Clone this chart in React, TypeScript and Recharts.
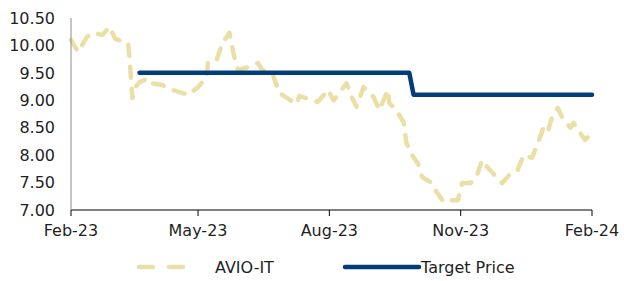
import React from 'react';
import { LineChart, Line, XAxis, YAxis } from 'recharts';

// AVIO-IT closing prices
const avioDates = [
  '2023-02-01', '2023-02-06', '2023-02-12', '2023-02-16', '2023-02-23', '2023-02-28',
  '2023-03-04', '2023-03-13', '2023-03-14', '2023-03-16', '2023-03-18', '2023-03-21',
  '2023-03-27', '2023-03-30', '2023-04-06', '2023-04-13', '2023-04-18', '2023-04-24',
  '2023-05-01', '2023-05-07', '2023-05-08', '2023-05-14', '2023-05-18', '2023-05-23',
  '2023-05-26', '2023-05-29', '2023-06-06', '2023-06-12', '2023-06-15', '2023-06-22',
  '2023-06-27', '2023-07-09', '2023-07-11', '2023-07-24', '2023-07-31', '2023-08-04',
  '2023-08-13', '2023-08-17', '2023-08-20', '2023-08-25', '2023-08-27', '2023-09-01',
  '2023-09-05', '2023-09-11', '2023-09-12', '2023-09-17', '2023-09-22', '2023-09-24',
  '2023-09-28', '2023-10-02', '2023-10-05', '2023-10-12', '2023-10-15', '2023-10-20',
  '2023-10-22', '2023-10-30', '2023-11-02', '2023-11-08', '2023-11-13', '2023-11-16',
  '2023-11-20', '2023-11-30', '2023-12-06', '2023-12-11', '2023-12-15', '2023-12-21',
  '2023-12-24', '2023-12-29', '2024-01-01', '2024-01-04', '2024-01-08', '2024-01-12',
  '2024-01-17', '2024-01-19', '2024-01-27', '2024-02-01',
];
const avioPrices = [
  10.1, 9.88, 10.15, 10.23, 10.19, 10.34,
  10.12, 10.04, 9.77, 9.04, 9.24, 9.33,
  9.4, 9.31, 9.28, 9.19, 9.15, 9.1,
  9.24, 9.42, 9.7, 9.73, 10.04, 10.23,
  9.83, 9.55, 9.61, 9.68, 9.55, 9.5,
  9.13, 8.93, 9.08, 8.97, 9.19, 9.0,
  9.31, 9.04, 8.88, 9.24, 9.19, 9.06,
  8.82, 9.19, 8.95, 8.82, 8.6, 8.22,
  8.0, 7.85, 7.6, 7.49, 7.33, 7.15,
  7.18, 7.18, 7.49, 7.49, 7.67, 7.91,
  7.77, 7.49, 7.67, 7.73, 8.0, 7.95,
  8.15, 8.5, 8.42, 8.7, 8.86, 8.64,
  8.5, 8.59, 8.28, 8.4,
];

// Target price steps
const targetDates = ['2023-03-21', '2023-09-26', '2023-09-29', '2024-02-01'];
const targetPrices = [9.5, 9.5, 9.1, 9.1];

const xTickDates = ['2023-02-01', '2023-05-01', '2023-08-01', '2023-11-01', '2024-02-01'];
const xTickLabels = ['Feb-23', 'May-23', 'Aug-23', 'Nov-23', 'Feb-24'];
const yTicks = [7, 7.5, 8, 8.5, 9, 9.5, 10, 10.5];

const BEIGE = '#EAE0A6';
const NAVY = '#033C7A';
const FONT = '"DejaVu Sans", sans-serif';

const ts = (d: string) => Date.parse(d + 'T00:00:00Z');

const avioData = avioDates.map((d, i) => ({ t: ts(d), value: avioPrices[i] }));
const targetData = targetDates.map((d, i) => ({ t: ts(d), value: targetPrices[i] }));
const xTicks = xTickDates.map(ts);

const formatX = (v: number) => {
  const idx = xTicks.indexOf(v);
  return idx >= 0 ? xTickLabels[idx] : '';
};

const ChartLegend = () => (
  <svg width={624} height={30} style={{ display: 'block' }}>
    <line x1={139} x2={194} y1={16} y2={16} stroke={BEIGE} strokeWidth={4.5}
      strokeDasharray="14 16" strokeLinecap="round" />
    <text x={215} y={22} fontSize={16} fill="#1f1f1f" fontFamily={FONT}>AVIO-IT</text>
    <line x1={345} x2={419} y1={16} y2={16} stroke={NAVY} strokeWidth={4.5} strokeLinecap="round" />
    <text x={421} y={22} fontSize={16} fill="#1f1f1f" fontFamily={FONT}>Target Price</text>
  </svg>
);

export default function App() {
  return (
    <div style={{ position: 'absolute', left: 0, top: 0, width: 624, height: 281, background: '#fff' }}>
      <LineChart
        width={624}
        height={251}
        margin={{ top: 18, right: 32, left: 0, bottom: 0 }}
      >
        <XAxis
          dataKey="t"
          type="number"
          domain={[xTicks[0], xTicks[xTicks.length - 1]]}
          ticks={xTicks}
          tickFormatter={formatX}
          stroke="#000"
          tickSize={6}
          tickMargin={9}
          height={41}
          tick={{ fill: '#1f1f1f', fontSize: 16, fontFamily: FONT }}
          allowDuplicatedCategory={false}
        />
        <YAxis
          type="number"
          domain={[7, 10.5]}
          ticks={yTicks}
          tickFormatter={(v: number) => v.toFixed(2)}
          stroke="#8c8c8c"
          tickLine={false}
          tickSize={0}
          tickMargin={16}
          width={71}
          tick={{ fill: '#1f1f1f', fontSize: 16, fontFamily: FONT }}
        />
        <Line
          data={avioData}
          dataKey="value"
          type="linear"
          stroke={BEIGE}
          strokeWidth={4.5}
          strokeDasharray="11 11"
          strokeLinecap="round"
          strokeLinejoin="round"
          dot={false}
          isAnimationActive={false}
        />
        <Line
          data={targetData}
          dataKey="value"
          type="linear"
          stroke={NAVY}
          strokeWidth={4.5}
          strokeLinecap="round"
          strokeLinejoin="round"
          dot={false}
          isAnimationActive={false}
        />
      </LineChart>
      <ChartLegend />
    </div>
  );
}
